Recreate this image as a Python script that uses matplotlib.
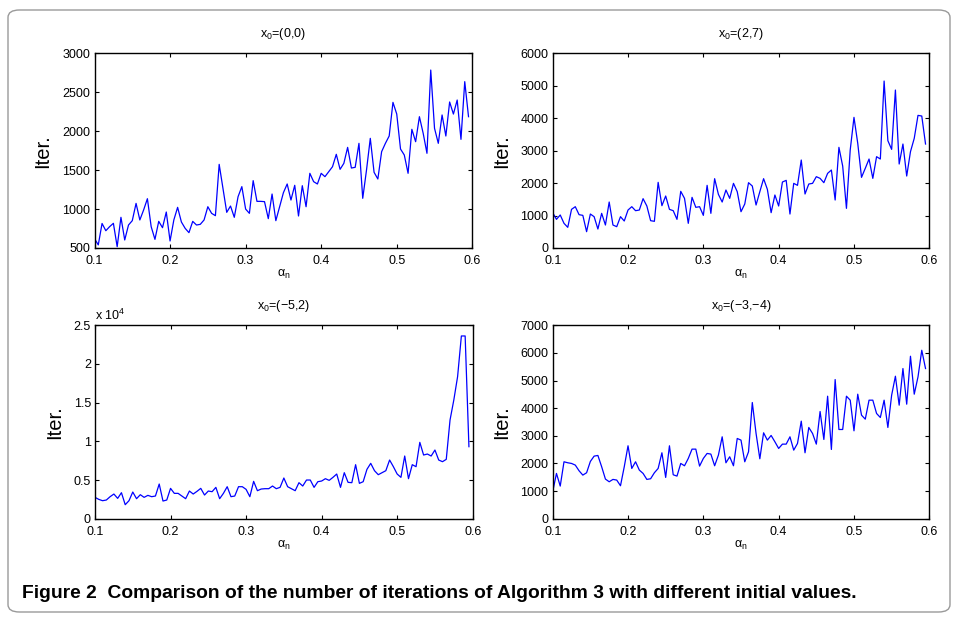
import matplotlib
matplotlib.use("Agg")
import matplotlib.pyplot as plt
import numpy as np
from matplotlib.patches import FancyBboxPatch
from matplotlib.ticker import FuncFormatter

plt.rcParams['font.family'] = ['Liberation Sans', 'DejaVu Sans']
plt.rcParams['mathtext.default'] = 'regular'

# alpha_n sampled 0.1 .. 0.595, step 0.005
alpha = np.arange(100) * 0.005 + 0.1

iter_00 = [620, 540, 815, 722, 774, 817, 517, 894, 603, 795,
           851, 1073, 860, 988, 1133, 774, 611, 842, 761, 962,
           590, 860, 1022, 834, 752, 697, 842, 795, 804, 860,
           1030, 945, 915, 1574, 1266, 958, 1039, 894, 1159, 1288,
           1000, 945, 1365, 1099, 1099, 1095, 877, 1193, 851, 1030,
           1210, 1322, 1116, 1305, 911, 1300, 1030, 1459, 1352, 1322,
           1459, 1416, 1480, 1544, 1703, 1510, 1587, 1792, 1527, 1536,
           1844, 1138, 1502, 1908, 1472, 1386, 1737, 1844, 1938, 2370,
           2220, 1771, 1694, 1459, 2024, 1865, 2186, 1972, 1716, 2785,
           2037, 1844, 2208, 1938, 2375, 2220, 2400, 1895, 2636, 2186]

iter_27 = [1089, 883, 1017, 760, 637, 1191, 1273, 1027, 1006, 503,
           1047, 965, 585, 1068, 708, 1417, 708, 657, 965, 832,
           1170, 1273, 1150, 1170, 1520, 1294, 842, 822, 2023, 1304,
           1602, 1191, 1150, 883, 1746, 1530, 760, 1561, 1253, 1273,
           1006, 1931, 1068, 2136, 1653, 1417,
           1787, 1530, 1992, 1736, 1119, 1356, 2013, 1910, 1325, 1736,
           2136, 1808, 1089, 1633, 1294, 2033, 2085, 1047, 1992, 1931,
           2711, 1664, 1972, 1992, 2198, 2146, 2013, 2300, 2403, 1479,
           3102, 2526, 1222, 3019, 4026, 3225, 2177, 2455, 2742, 2146,
           2814, 2742, 5145, 3307, 3040, 4868, 2588, 3204, 2218, 2968,
           3379, 4087, 4067, 3204]

iter_m52 = [2758, 2500, 2327, 2414, 2845, 3189, 2629, 3362, 1810, 2327,
            3448, 2586, 3103, 2758, 3017, 2845, 2931, 4482, 2284, 2414,
            3922, 3276, 3276, 2931, 2586, 3577, 3189, 3534, 3922, 3060,
            3577, 3491, 4051, 2586, 3276, 4137, 2845, 2931, 4137, 4137,
            3793, 2845, 4827, 3620, 3836, 3879, 3879, 4224, 3879, 4051,
            5258,
            4138, 3879, 3620, 4655, 4224, 5000, 5000, 4051, 4784, 4870,
            5172, 4956, 5344, 5775, 4051, 5948, 4698, 4655, 6982, 4569,
            4784, 6379, 7155, 6206, 5689, 5948, 6206, 7586, 6724, 5775,
            5344, 8103, 5172, 6982, 6724, 9870, 8232, 8361, 8103, 8879,
            7586, 7370, 7672, 12758, 15344, 18361, 23620, 23620, 9310]

iter_m3m4 = [976, 1639, 1181, 2060, 2024, 2000, 1940, 1735, 1578, 1663,
             2072, 2265, 2289, 1880, 1434, 1337, 1422, 1398, 1193, 1880,
             2639, 1819, 2060, 1759, 1639, 1422, 1446, 1663, 1819, 2386,
             1494, 2639, 1590, 1542, 2000, 1916, 2181, 2518, 2518, 1904,
             2181, 2362, 2338, 1916, 2301, 2964,
             2024, 2241, 1916, 2904, 2844, 2060, 2422, 4205, 3085, 2169,
             3109, 2844, 3013, 2784, 2543, 2699, 2699, 2964, 2482, 2723,
             3531, 2386, 3302, 3085, 2699, 3880, 2868, 4434, 2506, 5037,
             3229, 3229, 4434, 4290, 3181, 4507, 3748, 3603, 4290, 4290,
             3808, 3663, 4290, 3302, 4470, 5157, 4109, 5435, 4145, 5880,
             4507, 5133, 6097, 5435]

titles = ['x$_0$=(0,0)', 'x$_0$=(2,7)', 'x$_0$=(\u22125,2)', 'x$_0$=(\u22123,\u22124)']
series = [iter_00, iter_27, iter_m52, iter_m3m4]
ylims = [(500, 3000), (0, 6000), (0, 25000), (0, 7000)]
ysteps = [500, 1000, 5000, 1000]

W, H = 956, 618
fig = plt.figure(figsize=(W / 100, H / 100), dpi=100)

# rounded frame
frame = FancyBboxPatch((8 / W, 6 / H), 942 / W, 602 / H,
                       boxstyle="round,pad=0,rounding_size=0.012",
                       transform=fig.transFigure, fill=False,
                       edgecolor='#9a9a9a', linewidth=1.0)
fig.patches.append(frame)

# axes boxes in pixels: left, top, right, bottom
boxes = [(94.5, 53.3, 472.3, 248.0),
         (552.7, 53.3, 929.3, 248.0),
         (95.0, 325.3, 472.7, 518.7),
         (552.7, 325.3, 929.3, 518.7)]

for k in range(4):
    l, t, r, b = boxes[k]
    ax = fig.add_axes([l / W, (H - b) / H, (r - l) / W, (b - t) / H])
    ax.plot(alpha, series[k], color='#0000ff', linewidth=0.9)
    ax.set_xlim(0.1, 0.6)
    ax.set_ylim(*ylims[k])
    ax.set_xticks(np.arange(0.1, 0.61, 0.1))
    ax.xaxis.set_major_formatter(FuncFormatter(lambda v, p: '%g' % round(v, 2)))
    ax.set_yticks(np.arange(ylims[k][0], ylims[k][1] + 1, ysteps[k]))
    if k == 2:
        ax.yaxis.set_major_formatter(FuncFormatter(lambda v, p: '%g' % (v / 1e4)))
        ax.text(0.0, 1.012, 'x 10$^4$', transform=ax.transAxes, fontsize=9,
                ha='left', va='bottom')
    ax.tick_params(direction='in', top=True, right=True, length=3,
                   width=0.8, labelsize=9)
    ax.tick_params(axis='x', pad=5)
    ax.tick_params(axis='y', pad=3)
    for s in ax.spines.values():
        s.set_linewidth(1.0)
    ax.set_title(titles[k], fontsize=9, pad=12)
    ax.set_xlabel('\u03b1$_n$', fontsize=9, labelpad=1)
    ax.set_ylabel('Iter.', fontsize=14.5, labelpad=7)

fig.text(22 / W, 1 - 593 / H,
         'Figure 2  Comparison of the number of iterations of Algorithm 3 with different initial values.',
         fontsize=13.9, fontweight='bold', ha='left', va='center')

fig.savefig('out.png', dpi=100, facecolor='white')
